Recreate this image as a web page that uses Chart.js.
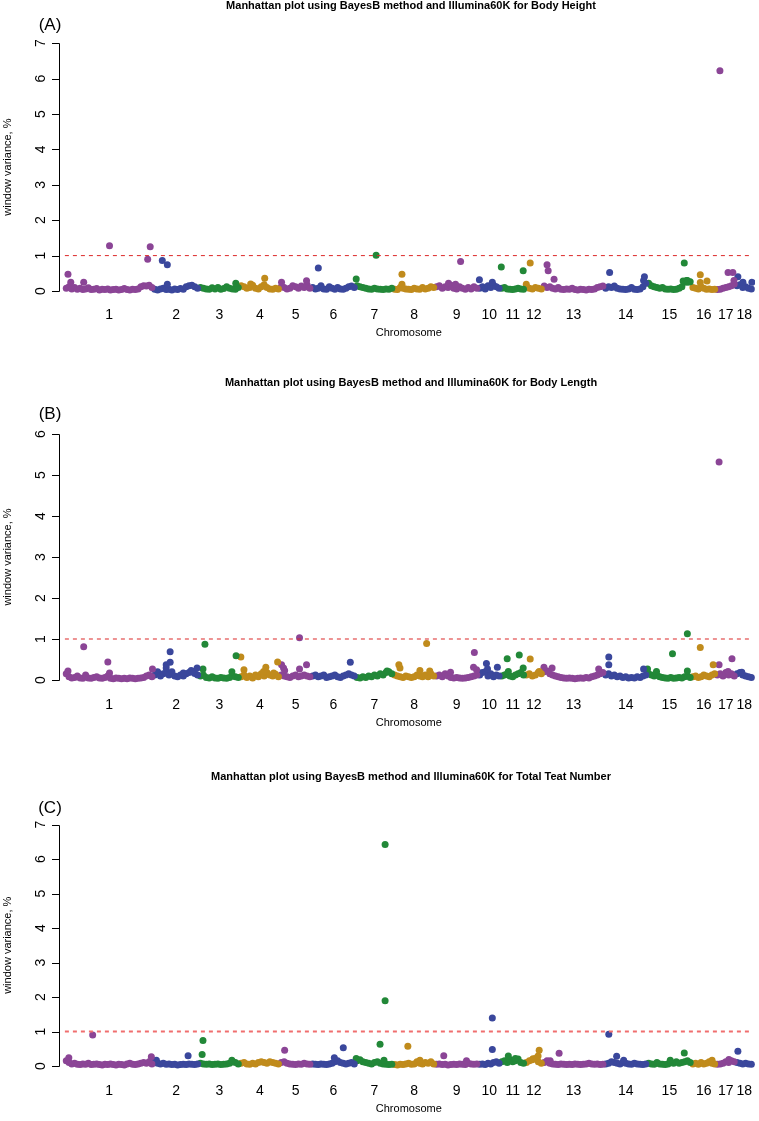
<!DOCTYPE html>
<html>
<head>
<meta charset="utf-8">
<script src="https://cdn.jsdelivr.net/npm/chart.js@4.4.1/dist/chart.umd.min.js"></script>
<style>
  html, body { margin: 0; padding: 0; background: #fff; }
  #wrap { position: relative; width: 759px; height: 1121px; overflow: hidden; }
  canvas { position: absolute; left: 0; top: 0; }
</style>
</head>
<body>
<div id="wrap">
  <canvas id="panel-a" width="759" height="1121"></canvas>
  <canvas id="panel-b" width="759" height="1121"></canvas>
  <canvas id="panel-c" width="759" height="1121"></canvas>
</div>
<script>
var chromosomes = ["1","2","3","4","5","6","7","8","9","10","11","12","13","14","15","16","17","18"];
var chromLengthMb = [315,163,145,143,112,158,134,149,154,79,87,64,219,153,158,87,70,61];
var chromColors = ["rgb(139,69,150)","rgb(58,71,156)","rgb(34,136,56)","rgb(192,139,28)"];

// background windows, one list per chromosome (window variance, %)
var heightBase = [
  [0.08,0.12,0.06,0.1,0.05,0.08,0.04,0.06,0.09,0.04,0.05,0.07,0.03,0.05,0.04,0.06,0.03,0.04,0.05,0.03,0.04,0.07,0.04,0.03,0.05,0.04,0.06,0.12,0.15,0.14,0.16,0.1],
  [0.05,0.03,0.06,0.08,0.04,0.05,0.03,0.06,0.04,0.07,0.05,0.12,0.15,0.16,0.12,0.08],
  [0.1,0.08,0.06,0.05,0.09,0.06,0.1,0.05,0.07,0.12,0.08,0.06,0.05,0.1],
  [0.15,0.12,0.08,0.1,0.16,0.08,0.06,0.12,0.18,0.1,0.06,0.05,0.08,0.06],
  [0.12,0.1,0.06,0.08,0.15,0.12,0.08,0.14,0.1,0.18,0.08],
  [0.1,0.06,0.08,0.15,0.06,0.05,0.12,0.08,0.05,0.1,0.06,0.05,0.08,0.12,0.14,0.1],
  [0.15,0.12,0.1,0.08,0.06,0.05,0.08,0.06,0.05,0.04,0.06,0.05,0.08],
  [0.05,0.04,0.1,0.08,0.06,0.05,0.04,0.08,0.06,0.05,0.1,0.06,0.08,0.12,0.1],
  [0.12,0.15,0.08,0.12,0.1,0.16,0.08,0.06,0.12,0.08,0.05,0.1,0.06,0.12,0.08],
  [0.08,0.12,0.06,0.15,0.1,0.16,0.12,0.08],
  [0.08,0.1,0.06,0.05,0.04,0.06,0.08,0.06,0.05],
  [0.12,0.08,0.06,0.1,0.08,0.06],
  [0.14,0.1,0.12,0.08,0.06,0.1,0.05,0.04,0.06,0.05,0.08,0.04,0.03,0.05,0.04,0.03,0.05,0.04,0.06,0.1,0.12,0.14],
  [0.08,0.12,0.1,0.14,0.08,0.06,0.05,0.04,0.06,0.1,0.05,0.04,0.06,0.12,0.22],
  [0.22,0.15,0.12,0.1,0.08,0.1,0.06,0.05,0.06,0.04,0.05,0.08,0.12,0.25,0.3,0.26],
  [0.1,0.08,0.06,0.12,0.08,0.05,0.06,0.04,0.05],
  [0.04,0.05,0.08,0.1,0.12,0.15,0.2],
  [0.15,0.18,0.1,0.12,0.08,0.06]
];
// [chromosome, Mb within chromosome, window variance %]
var heightPeaks = [
  [1,11,0.47],[1,21,0.25],[1,67,0.25],[1,159,1.28],[1,295,0.9],[1,304,1.25],
  [2,32,0.86],[2,50,0.74],[2,50,0.19],[3,131,0.22],[4,39,0.2],[4,89,0.36],
  [5,6,0.25],[5,95,0.29],[6,25,0.65],[7,2,0.34],[7,73,1.01],[8,31,0.47],[8,31,0.19],
  [9,48,0.22],[9,73,0.19],[9,91,0.83],[10,4,0.32],[10,50,0.25],[11,3,0.68],[11,81,0.57],
  [12,5,0.19],[12,19,0.79],[13,15,0.74],[13,19,0.57],[13,40,0.33],
  [14,19,0.52],[14,140,0.3],[14,143,0.4],[15,128,0.28],[15,132,0.79],[15,140,0.3],[15,145,0.25],
  [16,31,0.46],[16,31,0.24],[16,55,0.28],[17,14,6.22],[17,43,0.52],[17,60,0.52],[17,64,0.3],
  [18,8,0.4],[18,26,0.25],[18,58,0.25]
];

var lengthBase = [
  [0.15,0.08,0.05,0.06,0.1,0.05,0.04,0.12,0.05,0.04,0.06,0.08,0.05,0.04,0.06,0.1,0.04,0.03,0.05,0.04,0.03,0.04,0.03,0.05,0.04,0.03,0.04,0.05,0.06,0.1,0.12,0.08],
  [0.12,0.2,0.1,0.15,0.18,0.12,0.2,0.1,0.08,0.12,0.1,0.15,0.18,0.2,0.16,0.12],
  [0.1,0.12,0.06,0.05,0.08,0.05,0.04,0.06,0.05,0.04,0.06,0.1,0.08,0.06],
  [0.08,0.12,0.06,0.1,0.05,0.12,0.08,0.15,0.1,0.18,0.12,0.1,0.14,0.08],
  [0.12,0.1,0.08,0.06,0.1,0.12,0.08,0.1,0.12,0.1,0.08],
  [0.1,0.12,0.08,0.1,0.12,0.06,0.08,0.1,0.12,0.08,0.06,0.1,0.12,0.15,0.12,0.1],
  [0.06,0.05,0.08,0.06,0.1,0.08,0.12,0.1,0.15,0.12,0.18,0.2,0.15],
  [0.12,0.1,0.08,0.06,0.1,0.08,0.06,0.08,0.12,0.1,0.08,0.12,0.08,0.15,0.1],
  [0.1,0.12,0.08,0.15,0.1,0.06,0.05,0.06,0.05,0.04,0.05,0.06,0.08,0.1,0.12],
  [0.12,0.18,0.2,0.1,0.15,0.08,0.12,0.1],
  [0.1,0.12,0.15,0.1,0.08,0.12,0.15,0.18,0.12],
  [0.12,0.15,0.1,0.12,0.18,0.15],
  [0.2,0.22,0.15,0.12,0.1,0.08,0.06,0.05,0.04,0.05,0.04,0.03,0.04,0.05,0.04,0.06,0.05,0.08,0.1,0.12,0.15,0.18],
  [0.12,0.15,0.1,0.12,0.08,0.1,0.06,0.08,0.05,0.06,0.05,0.08,0.06,0.1,0.12],
  [0.15,0.12,0.1,0.12,0.08,0.06,0.05,0.04,0.06,0.04,0.05,0.06,0.05,0.08,0.1,0.06],
  [0.08,0.1,0.06,0.08,0.12,0.1,0.08,0.12,0.15],
  [0.12,0.15,0.1,0.18,0.12,0.15,0.1],
  [0.15,0.18,0.12,0.1,0.08,0.06]
];
var lengthPeaks = [
  [1,11,0.22],[1,67,0.81],[1,153,0.44],[1,159,0.17],[1,312,0.27],
  [2,46,0.37],[2,46,0.29],[2,60,0.69],[2,60,0.43],[2,107,0.17],[2,135,0.23],[2,145,0.2],[2,156,0.29],
  [3,14,0.27],[3,21,0.87],[3,117,0.2],[3,132,0.59],
  [4,4,0.56],[4,15,0.25],[4,85,0.21],[4,93,0.31],[4,121,0.17],[4,135,0.44],
  [5,6,0.37],[5,13,0.29],[5,17,0.23],[5,70,1.03],[5,70,0.27],[5,95,0.37],
  [6,139,0.43],[7,112,0.22],[8,20,0.37],[8,24,0.29],[8,95,0.23],[8,119,0.89],[8,130,0.22],
  [9,55,0.19],[9,137,0.31],[9,140,0.67],[9,148,0.25],
  [10,4,0.17],[10,29,0.4],[10,33,0.27],[10,68,0.31],
  [11,24,0.52],[11,28,0.21],[11,67,0.61],[11,81,0.29],[12,19,0.51],[12,51,0.21],
  [13,4,0.31],[13,33,0.29],[13,199,0.27],[14,16,0.56],[14,16,0.37],[14,140,0.27],
  [15,1,0.27],[15,33,0.21],[15,90,0.64],[15,143,1.13],[15,143,0.22],
  [16,31,0.79],[16,77,0.37],[17,11,5.32],[17,11,0.37],[17,43,0.21],[17,57,0.52],[18,22,0.19]
];

var teatBase = [
  [0.15,0.1,0.06,0.08,0.05,0.04,0.06,0.05,0.08,0.04,0.05,0.06,0.04,0.03,0.05,0.04,0.06,0.04,0.03,0.05,0.04,0.03,0.06,0.08,0.05,0.04,0.06,0.08,0.1,0.08,0.12,0.06],
  [0.15,0.08,0.06,0.08,0.05,0.06,0.04,0.05,0.03,0.04,0.05,0.04,0.06,0.05,0.04,0.06],
  [0.08,0.06,0.05,0.06,0.04,0.05,0.06,0.04,0.05,0.06,0.08,0.12,0.1,0.06],
  [0.08,0.1,0.06,0.05,0.08,0.06,0.1,0.12,0.1,0.08,0.12,0.1,0.08,0.06],
  [0.1,0.12,0.08,0.06,0.05,0.04,0.06,0.05,0.08,0.06,0.05],
  [0.06,0.05,0.04,0.06,0.05,0.04,0.06,0.08,0.12,0.15,0.1,0.08,0.06,0.08,0.1,0.06],
  [0.15,0.18,0.12,0.1,0.08,0.06,0.1,0.12,0.08,0.06,0.05,0.04,0.05],
  [0.04,0.03,0.05,0.04,0.06,0.08,0.05,0.06,0.12,0.08,0.06,0.1,0.08,0.12,0.06],
  [0.05,0.06,0.04,0.05,0.03,0.04,0.05,0.04,0.06,0.05,0.04,0.08,0.06,0.05,0.06],
  [0.05,0.06,0.04,0.08,0.06,0.1,0.12,0.08],
  [0.12,0.15,0.1,0.18,0.12,0.15,0.2,0.1,0.08],
  [0.1,0.15,0.18,0.22,0.12,0.08],
  [0.1,0.15,0.08,0.06,0.05,0.04,0.06,0.05,0.04,0.05,0.04,0.06,0.05,0.04,0.05,0.06,0.08,0.06,0.05,0.06,0.04,0.05],
  [0.06,0.08,0.12,0.1,0.08,0.06,0.1,0.08,0.06,0.05,0.08,0.06,0.05,0.04,0.06],
  [0.08,0.06,0.05,0.1,0.06,0.05,0.04,0.06,0.1,0.08,0.12,0.08,0.1,0.12,0.15,0.1],
  [0.06,0.08,0.05,0.1,0.06,0.08,0.12,0.08,0.06],
  [0.05,0.06,0.08,0.12,0.1,0.15,0.12],
  [0.1,0.08,0.06,0.08,0.06,0.05]
];
var teatPeaks = [
  [1,14,0.24],[1,99,0.9],[1,308,0.27],[2,11,0.17],[2,124,0.3],
  [3,11,0.33],[3,14,0.74],[3,117,0.17],[5,17,0.46],[6,82,0.24],[6,114,0.53],
  [7,2,0.22],[7,87,0.63],[7,101,0.17],[7,105,1.89],[7,105,6.42],
  [8,52,0.57],[8,95,0.17],[9,31,0.3],[9,112,0.15],[10,50,1.39],[10,50,0.48],
  [11,28,0.29],[11,53,0.22],[12,29,0.21],[12,47,0.29],[12,51,0.46],
  [13,26,0.15],[13,58,0.37],[14,16,0.92],[14,44,0.28],[14,69,0.17],
  [15,82,0.17],[15,132,0.38],[16,73,0.17],[17,46,0.19],[18,8,0.43]
];

var chromStartMb = [];
var totalMb = 0;
chromLengthMb.forEach(function (len) {
  chromStartMb.push(totalMb);
  totalMb += len;
});

function buildPoints(base, peaks) {
  return chromosomes.map(function (c, i) {
    var start = chromStartMb[i];
    var len = chromLengthMb[i];
    var vals = base[i];
    var pts = vals.map(function (v, k) {
      return { x: start + ((k + 0.5) * len) / vals.length, y: v };
    });
    peaks.forEach(function (p) {
      if (p[0] === i + 1) pts.push({ x: start + p[1], y: p[2] });
    });
    return pts;
  });
}

var manhattanDecor = {
  id: "manhattanDecor",
  afterDraw: function (chart) {
    var p = chart.options.plugins.manhattanDecor;
    var ctx = chart.ctx;
    var xs = chart.scales.x;
    var ys = chart.scales.y;
    var font = '"Liberation Sans", Arial, sans-serif';
    ctx.save();
    ctx.fillStyle = "#000";
    ctx.strokeStyle = "#000";
    ctx.lineWidth = 1;
    ctx.textAlign = "center";
    ctx.textBaseline = "middle";

    ctx.font = "bold 11px " + font;
    ctx.fillText(p.title, 411, p.titleY);
    ctx.font = "17px " + font;
    ctx.fillText(p.letter, 50, p.letterY);

    // y axis, R style
    var yTop = ys.getPixelForValue(p.yMax);
    var yBot = ys.getPixelForValue(0);
    ctx.beginPath();
    ctx.moveTo(59.5, Math.round(yTop) + 0.5);
    ctx.lineTo(59.5, Math.round(yBot) + 0.5);
    for (var v = 0; v <= p.yMax; v++) {
      var ty = Math.round(ys.getPixelForValue(v)) + 0.5;
      ctx.moveTo(52, ty);
      ctx.lineTo(59.5, ty);
    }
    ctx.stroke();
    ctx.font = "14px " + font;
    for (v = 0; v <= p.yMax; v++) {
      ctx.save();
      ctx.translate(41, ys.getPixelForValue(v));
      ctx.rotate(-Math.PI / 2);
      ctx.fillText(String(v), 0, 0);
      ctx.restore();
    }
    ctx.save();
    ctx.font = "11px " + font;
    ctx.translate(8, (yTop + yBot) / 2);
    ctx.rotate(-Math.PI / 2);
    ctx.fillText("window variance, %", 0, 0);
    ctx.restore();

    // chromosome labels
    ctx.font = "14px " + font;
    chromosomes.forEach(function (c, i) {
      var mid = chromStartMb[i] + chromLengthMb[i] / 2;
      ctx.fillText(c, xs.getPixelForValue(mid), p.labelY);
    });
    ctx.font = "11px " + font;
    ctx.fillText("Chromosome", xs.getPixelForValue(totalMb / 2), p.xTitleY);
    ctx.restore();
  }
};

function drawPanel(id, base, peaks, cfg) {
  var areaTop = cfg.y0 - cfg.yMax * 1.04 * cfg.unit;
  var areaBottom = cfg.y0 + cfg.yMax * 0.04 * cfg.unit;
  var series = buildPoints(base, peaks);
  var datasets = [
    {
      data: [{ x: 0, y: 1 }, { x: totalMb, y: 1 }],
      showLine: true,
      borderColor: cfg.lineColor,
      borderWidth: cfg.lineWidth,
      borderDash: [4, 4],
      pointRadius: 0
    }
  ];
  series.forEach(function (pts, i) {
    datasets.push({
      data: pts,
      pointRadius: 3.5,
      pointBorderWidth: 0,
      pointBackgroundColor: chromColors[i % 4],
      pointBorderColor: chromColors[i % 4],
      showLine: false
    });
  });
  return new Chart(document.getElementById(id), {
    type: "scatter",
    data: { datasets: datasets },
    options: {
      responsive: false,
      animation: false,
      events: [],
      layout: {
        padding: { left: 59, right: 0, top: areaTop, bottom: 1121 - areaBottom }
      },
      scales: {
        x: { type: "linear", min: -21, max: 2459, display: false },
        y: { type: "linear", min: -cfg.yMax * 0.04, max: cfg.yMax * 1.04, display: false }
      },
      plugins: {
        legend: { display: false },
        tooltip: { enabled: false },
        manhattanDecor: cfg
      }
    },
    plugins: [manhattanDecor]
  });
}

drawPanel("panel-a", heightBase, heightPeaks, {
  title: "Manhattan plot using BayesB method and Illumina60K for Body Height",
  letter: "(A)", yMax: 7, y0: 291, unit: 35.4,
  titleY: 6, letterY: 25, labelY: 315, xTitleY: 333,
  lineColor: "rgb(220,40,40)", lineWidth: 1
});
drawPanel("panel-b", lengthBase, lengthPeaks, {
  title: "Manhattan plot using BayesB method and Illumina60K for Body Length",
  letter: "(B)", yMax: 6, y0: 680, unit: 41,
  titleY: 383, letterY: 414, labelY: 705, xTitleY: 723,
  lineColor: "rgb(220,40,40)", lineWidth: 1
});
drawPanel("panel-c", teatBase, teatPeaks, {
  title: "Manhattan plot using BayesB method and Illumina60K for Total Teat Number",
  letter: "(C)", yMax: 7, y0: 1066, unit: 34.5,
  titleY: 777, letterY: 808, labelY: 1091, xTitleY: 1109,
  lineColor: "rgb(240,110,110)", lineWidth: 2
});
</script>
</body>
</html>
